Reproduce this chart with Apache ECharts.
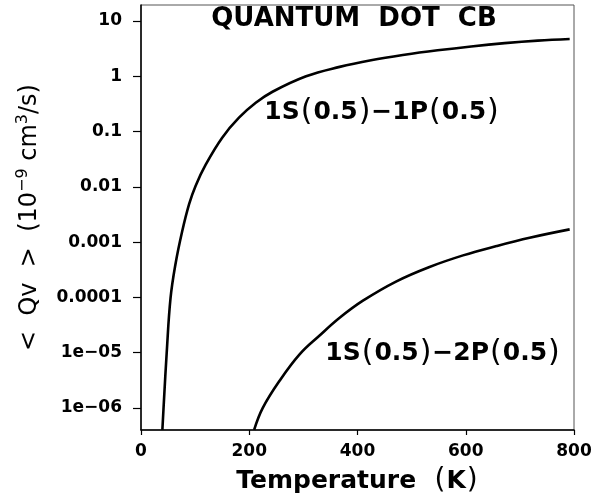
<!DOCTYPE html>
<html>
<head>
<meta charset="utf-8">
<script src="https://cdn.jsdelivr.net/npm/echarts@6/dist/echarts.min.js"></script>
<style>html,body{margin:0;padding:0;background:#fff}#c{width:610px;height:500px}</style>
</head>
<body>
<div id="c"></div>
<script>
var xTicks = [0, 200, 400, 600, 800];
var yTickValues = [1e-6, 1e-5, 1e-4, 1e-3, 1e-2, 0.1, 1, 10];
var yTickLabels = ['1e\u221206', '1e\u221205', '0.0001', '0.001', '0.01', '0.1', '1', '10'];

var temp1P = [39.5, 42.5, 47.5, 54.5, 63.5, 76, 89, 101, 120, 150, 181, 212, 243, 305, 367, 425, 487, 548, 610, 672, 733, 792];
var rate1P = [4.0e-7, 1.41e-6, 1.0e-5, 9.55e-5, 3.89e-4, 1.55e-3, 4.9e-3, 0.0105, 0.0257, 0.0776, 0.178, 0.331, 0.525, 1.0, 1.48, 1.95, 2.45, 2.95, 3.47, 3.98, 4.42, 4.73];

var temp2P = [209, 225, 256, 293, 330, 367, 410, 472, 533, 595, 657, 718, 792];
var rate2P = [4.0e-7, 1.0e-6, 3.09e-6, 9.3e-6, 2.04e-5, 4.27e-5, 8.7e-5, 1.95e-4, 3.55e-4, 5.75e-4, 8.5e-4, 1.2e-3, 1.7e-3];

var labelTitle = 'QUANTUM  DOT  CB';
var label1P = '1S{p|(}0.5{p|)}\u22121P{p|(}0.5{p|)}';
var label2P = '1S{p|(}0.5{p|)}\u22122P{p|(}0.5{p|)}';

function pairs(xs, ys) { return xs.map(function (x, i) { return [x, ys[i]]; }); }

var FONT = 'DejaVu Sans';
var chart = echarts.init(document.getElementById('c'), null, {renderer: 'canvas'});
var parenRich = { p: { fontFamily: FONT, fontWeight: 'normal', fontSize: 30, padding: [0, 1, 0, 1] } };

chart.setOption({
  animation: false,
  backgroundColor: '#fff',
  grid: { left: 141, top: 5, width: 433, height: 427, show: true, borderColor: '#555', borderWidth: 1, backgroundColor: 'transparent' },
  xAxis: {
    type: 'value', min: 0, max: 800, interval: 200,
    axisLine: { show: true, onZero: false, lineStyle: { color: '#000', width: 1.5 } },
    axisTick: { show: true, inside: false, length: 5, lineStyle: { color: '#000', width: 1.2 } },
    axisLabel: { show: true, margin: 13, color: '#000', fontFamily: FONT, fontWeight: 'bold', fontSize: 17,
      formatter: function (v) { return xTicks.indexOf(v) >= 0 ? String(v) : ''; } },
    splitLine: { show: false },
    name: 'Temperature  {p|(}K{p|)}', nameLocation: 'middle', nameGap: 37,
    nameTextStyle: { color: '#000', fontFamily: FONT, fontWeight: 'bold', fontSize: 25, rich: { p: { fontFamily: FONT, fontWeight: 'normal', fontSize: 28, padding: [0, 1, 0, 1] } } }
  },
  yAxis: {
    type: 'log', logBase: 10, min: Math.pow(10, -6.4), max: Math.pow(10, 1.29),
    axisLine: { show: true, lineStyle: { color: '#000', width: 1.5 } },
    axisTick: { show: true, inside: false, length: 8, customValues: yTickValues, lineStyle: { color: '#000', width: 1.2 } },
    axisLabel: { show: true, margin: 19, color: '#000', fontFamily: FONT, fontWeight: 'bold', fontSize: 17, customValues: yTickValues,
      formatter: function (v) {
        for (var i = 0; i < yTickValues.length; i++) { if (Math.abs(Math.log10(v) - Math.log10(yTickValues[i])) < 1e-6) return yTickLabels[i]; }
        return '';
      } },
    splitLine: { show: false },
    name: '<  Qv  >  (10{sup|\u22129} cm{sup|3}/s)', nameLocation: 'middle', nameGap: 96, nameRotate: 90,
    nameTextStyle: { color: '#000', fontFamily: FONT, fontWeight: 'normal', fontSize: 24, lineHeight: 30,
      rich: { sup: { fontFamily: FONT, fontSize: 16, verticalAlign: 'top', lineHeight: 30, padding: [0, 0, 12, 0] } } }
  },
  graphic: [
    { type: 'text', x: 354, y: 19, style: { text: labelTitle, fill: '#000', font: 'bold 26px "DejaVu Sans"', align: 'center', verticalAlign: 'middle' } },
    { type: 'text', x: 382, y: 112, style: { text: label1P, fill: '#000', font: 'bold 25px "DejaVu Sans"', align: 'center', verticalAlign: 'middle', rich: parenRich } },
    { type: 'text', x: 443, y: 353, style: { text: label2P, fill: '#000', font: 'bold 25px "DejaVu Sans"', align: 'center', verticalAlign: 'middle', rich: parenRich } }
  ],
  series: [
    { type: 'line', data: pairs(temp1P, rate1P), smooth: 0.4, showSymbol: false, lineStyle: { color: '#000', width: 2.6 }, clip: true },
    { type: 'line', data: pairs(temp2P, rate2P), smooth: 0.4, showSymbol: false, lineStyle: { color: '#000', width: 2.6 }, clip: true }
  ]
});
</script>
</body>
</html>
